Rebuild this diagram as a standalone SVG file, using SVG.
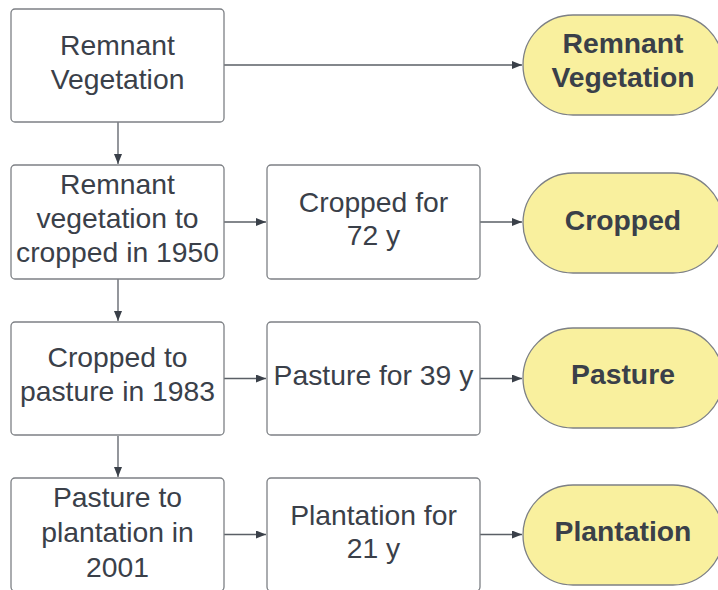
<svg xmlns="http://www.w3.org/2000/svg" width="718" height="590" viewBox="0 0 718 590">
<defs>
<style>
.box{fill:#ffffff;stroke:#7d8085;stroke-width:1.3}
.pill{fill:#f9f09e;stroke:#7d8085;stroke-width:1.3}
.t{font-family:"Liberation Sans",Arial,sans-serif;font-size:28.3px;fill:#3a4049;text-anchor:middle}
.b{font-weight:bold}
.c{stroke:#5a5f66;stroke-width:1.3;fill:none;marker-end:url(#ah)}
</style>
<marker id="ah" viewBox="0 0 10 8" refX="10" refY="4" markerWidth="10" markerHeight="8" markerUnits="userSpaceOnUse" orient="auto">
<path d="M0,0 L10,4 L0,8 Z" fill="#3a4049"/>
</marker>
</defs>
<rect width="718" height="590" fill="#ffffff"/>
<g id="connectors">
<path class="c" d="M224,65 H522"/>
<path class="c" d="M118,122 V164"/>
<path class="c" d="M224,222 H266"/>
<path class="c" d="M480,222 H522"/>
<path class="c" d="M118,279 V321"/>
<path class="c" d="M224,378.5 H266"/>
<path class="c" d="M480,378.5 H522"/>
<path class="c" d="M118,436 V477"/>
<path class="c" d="M224,534.5 H266"/>
<path class="c" d="M480,534.5 H522"/>
</g>
<g id="n1">
<rect class="box" x="11" y="9" width="213" height="113" rx="4"/>
<text class="t" x="117.5" y="55">Remnant</text>
<text class="t" x="117.5" y="89">Vegetation</text>
</g>
<g id="p1">
<rect class="pill" x="523" y="15" width="200" height="100" rx="50"/>
<text class="t b" x="623" y="53">Remnant</text>
<text class="t b" x="623" y="87">Vegetation</text>
</g>
<g id="n2">
<rect class="box" x="11" y="165" width="213" height="114" rx="4"/>
<text class="t" x="117.5" y="194">Remnant</text>
<text class="t" x="117.5" y="228">vegetation to</text>
<text class="t" x="117.5" y="262">cropped in 1950</text>
</g>
<g id="m2">
<rect class="box" x="267" y="165" width="213" height="114" rx="4"/>
<text class="t" x="373.5" y="211.5">Cropped for</text>
<text class="t" x="373.5" y="245">72 y</text>
</g>
<g id="p2">
<rect class="pill" x="523" y="173" width="200" height="100" rx="50"/>
<text class="t b" x="623" y="229.5">Cropped</text>
</g>
<g id="n3">
<rect class="box" x="11" y="322" width="213" height="113" rx="4"/>
<text class="t" x="117.5" y="367">Cropped to</text>
<text class="t" x="117.5" y="401">pasture in 1983</text>
</g>
<g id="m3">
<rect class="box" x="267" y="322" width="213" height="113" rx="4"/>
<text class="t" x="373.5" y="385">Pasture for 39 y</text>
</g>
<g id="p3">
<rect class="pill" x="523" y="328" width="200" height="100" rx="50"/>
<text class="t b" x="623" y="383.5">Pasture</text>
</g>
<g id="n4">
<rect class="box" x="11" y="478" width="213" height="113" rx="4"/>
<text class="t" x="117.5" y="507">Pasture to</text>
<text class="t" x="117.5" y="541.5">plantation in</text>
<text class="t" x="117.5" y="576.5">2001</text>
</g>
<g id="m4">
<rect class="box" x="267" y="478" width="213" height="113" rx="4"/>
<text class="t" x="373.5" y="525">Plantation for</text>
<text class="t" x="373.5" y="558">21 y</text>
</g>
<g id="p4">
<rect class="pill" x="523" y="485" width="200" height="100" rx="50"/>
<text class="t b" x="623" y="540.5">Plantation</text>
</g>
</svg>
